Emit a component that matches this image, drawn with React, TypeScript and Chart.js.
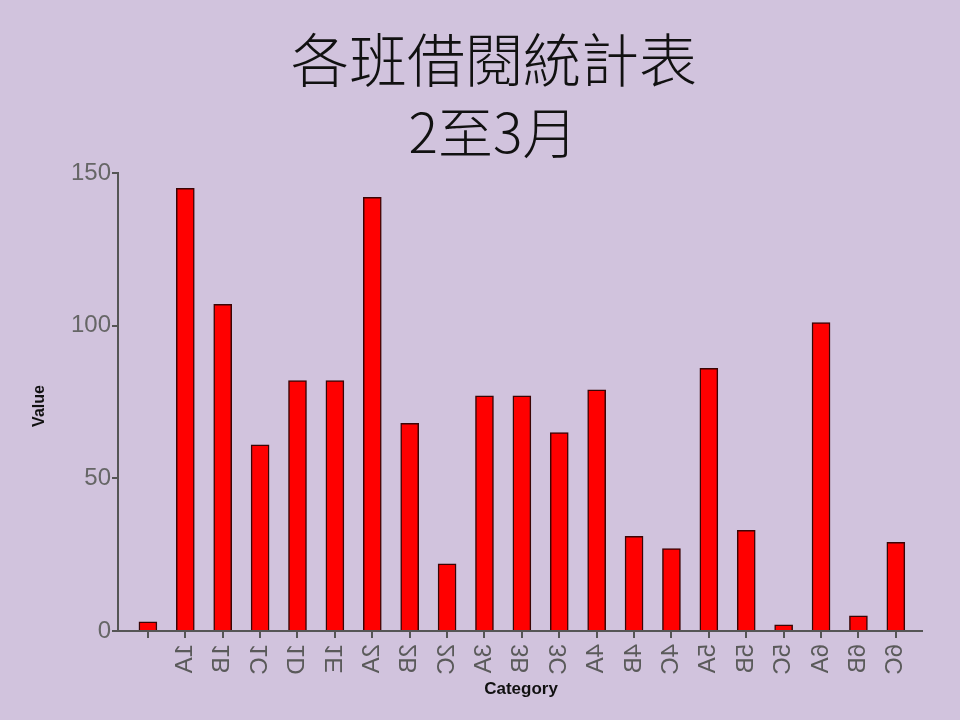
import React, { useEffect, useRef } from "react";
import { Chart, registerables } from "chart.js";

Chart.register(...registerables);

const categories: string[] = ["", "1A", "1B", "1C", "1D", "1E", "2A", "2B", "2C", "3A", "3B", "3C", "4A", "4B", "4C", "5A", "5B", "5C", "6A", "6B", "6C"];
const values: number[] = [3, 145, 107, 61, 82, 82, 142, 68, 22, 77, 77, 65, 79, 31, 27, 86, 33, 2, 101, 5, 29];
const yTicks: number[] = [0, 50, 100, 150];
const titleLines: string[] = ["各班借閱統計表", "2至3月"];
const xAxisTitle = "Category";
const yAxisTitle = "Value";

const BG = "#D1C3DD";

const drawPlugin = {
  id: "customText",
  afterDraw(chart: any) {
    const ctx = chart.ctx as CanvasRenderingContext2D;
    const xs = chart.scales.x;
    const area = chart.chartArea;
    ctx.save();
    // titles
    ctx.fillStyle = "#111";
    ctx.textAlign = "center";
    ctx.textBaseline = "middle";
    ctx.font = '300 58px "Noto Sans CJK TC"';
    ctx.fillText(titleLines[0], 494, 60);
    ctx.font = '300 55px "Noto Sans CJK TC"';
    ctx.fillText(titleLines[1], 493, 132);

    // x tick labels (transposed)
    ctx.fillStyle = "#5a5a5a";
    ctx.font = '24px "Liberation Sans"';
    categories.forEach((c, i) => {
      const px = xs.getPixelForValue(i);
      ctx.save();
      ctx.translate(px, area.bottom + 13);
      ctx.transform(0, 1, 1, 0, 0, 0);
      ctx.textAlign = "left";
      ctx.textBaseline = "middle";
      ctx.fillText(c, 0, 0);
      ctx.restore();
    });

    // axis titles
    ctx.fillStyle = "#111";
    ctx.font = 'bold 17px "Liberation Sans"';
    ctx.textAlign = "center";
    ctx.textBaseline = "middle";
    ctx.fillText(xAxisTitle, 521, 689);
    ctx.save();
    ctx.translate(40, 406);
    ctx.rotate(-Math.PI / 2);
    ctx.font = 'bold 16px "Liberation Sans"';
    ctx.fillText(yAxisTitle, 0, 0);
    ctx.restore();
    ctx.restore();
  },
};

export default function App() {
  const ref = useRef<HTMLCanvasElement | null>(null);
  useEffect(() => {
    document.body.style.margin = "0";
    const canvas = ref.current!;
    const chart = new Chart(canvas, {
      type: "bar",
      data: {
        datasets: [
          {
            data: values.map((v, i) => ({ x: i, y: v })),
            backgroundColor: "#FF0000",
            borderColor: "#3a0505",
            borderWidth: 1.5,
            borderSkipped: "bottom",
            barThickness: 18,
          },
        ],
      },
      options: {
        responsive: false,
        animation: false,
        events: [],
        layout: { padding: { top: 173, right: 38, left: 0, bottom: 0 } },
        plugins: {
          legend: { display: false },
          tooltip: { enabled: false },
          title: { display: false },
        },
        scales: {
          x: {
            type: "linear",
            min: -0.8,
            max: 20.7,
            offset: false,
            afterBuildTicks: (s: any) => {
              s.ticks = categories.map((_, i) => ({ value: i }));
            },
            afterFit: (s: any) => {
              s.height = 89;
            },
            ticks: { display: false },
            grid: {
              display: true,
              offset: false,
              drawOnChartArea: false,
              drawTicks: true,
              tickLength: 7,
              color: "#555",
              lineWidth: 2,
            },
            border: { display: true, color: "#555", width: 2 },
          },
          y: {
            type: "linear",
            min: 0,
            max: 150,
            afterBuildTicks: (s: any) => {
              s.ticks = yTicks.map((v) => ({ value: v }));
            },
            afterFit: (s: any) => {
              s.width = 118;
            },
            ticks: {
              color: "#666",
              font: { family: "Liberation Sans", size: 24 },
              padding: 1,
            },
            grid: {
              display: true,
              drawOnChartArea: false,
              drawTicks: true,
              tickLength: 6,
              color: "#555",
              lineWidth: 2,
            },
            border: { display: true, color: "#555", width: 2 },
          },
        },
      },
      plugins: [drawPlugin],
    });
    return () => chart.destroy();
  }, []);
  return (
    <div style={{ position: "absolute", left: 0, top: 0, width: 960, height: 720, background: BG }}>
      <canvas ref={ref} width={960} height={720} style={{ display: "block", width: 960, height: 720 }} />
    </div>
  );
}
